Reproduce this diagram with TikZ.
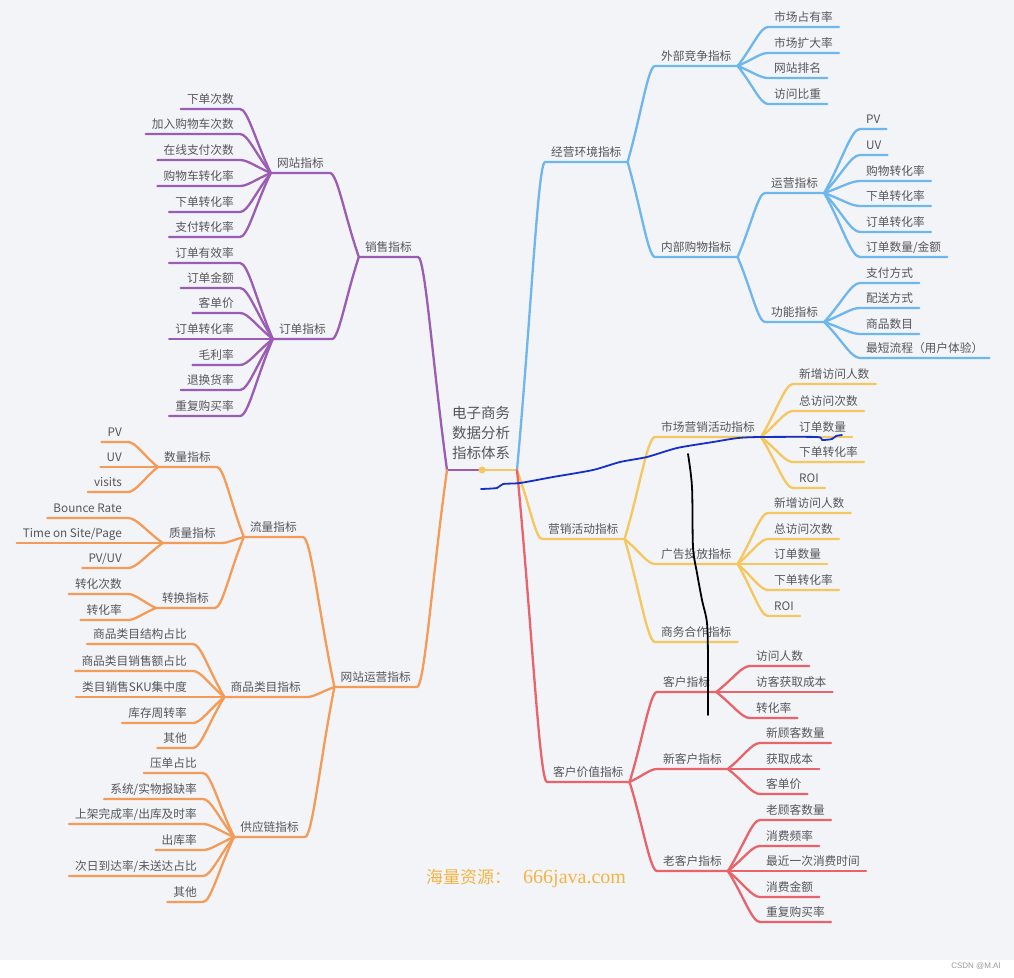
\documentclass[tikz,border=0pt]{standalone}
\usepackage{fontspec}
\setmainfont{Noto Sans CJK SC}
\newfontfamily\wmserif{Liberation Serif}
\newfontfamily\csdnfont{Liberation Sans}
\usetikzlibrary{calc}
\definecolor{bgc}{HTML}{F3F4F8}
\definecolor{cblue}{HTML}{6DB6EE}
\definecolor{cpurple}{HTML}{9B5CB4}
\definecolor{corange}{HTML}{F49B57}
\definecolor{cyellow}{HTML}{F5C75E}
\definecolor{cred}{HTML}{E7646B}
\definecolor{txt}{HTML}{55555B}
\definecolor{wmc}{HTML}{F2B545}
\definecolor{inkblue}{HTML}{1530C8}
\begin{document}
\begin{tikzpicture}[x=1pt,y=-1pt,
  lbl/.style={font=\fontsize{11.7}{14}\selectfont, text=txt, inner xsep=6pt, inner ysep=3pt, text height=0.8em, text depth=0.2em},
  R/.style={lbl,anchor=south west},
  L/.style={lbl,anchor=south east},
  br/.style={to path={let \p1=(\tikztostart),\p2=(\tikztotarget) in .. controls ({0.5*\x1+0.5*\x2},{0.5*\y1+0.5*\y2}) and ({0.75*\x2+0.25*\x1},\y2) .. (\p2)}},
  cline/.style={line width=2.3pt, line cap=round, line join=round}]
\useasboundingbox (0,0) rectangle (1014,977);
\fill[white] (0,0) rectangle (1014,977);
\fill[bgc] (0,0) rectangle (1014,960);

% root
\node[font=\fontsize{14.5}{20}\selectfont, text=txt, align=center] (root) at (481,433) {电子商务\\数据分析\\指标体系};
\coordinate (rootL) at (447,470);
\coordinate (rootR) at (517,470);
\coordinate (rootM) at (482,470);

% ---------- right: blue
\node[R] (jy) at (545,162) {经营环境指标};
\node[R] (wb) at (655,66) {外部竞争指标};
\node[R] (nb) at (655,257) {内部购物指标};
\node[R] (w1) at (768,27) {市场占有率};
\node[R] (w2) at (768,53) {市场扩大率};
\node[R] (w3) at (768,78) {网站排名};
\node[R] (w4) at (768,104) {访问比重};
\node[R] (yy) at (765,193) {运营指标};
\node[R] (gn) at (765,322) {功能指标};
\node[R] (y1) at (860,129) {PV};
\node[R] (y2) at (860,155) {UV};
\node[R] (y3) at (860,181) {购物转化率};
\node[R] (y4) at (860,206) {下单转化率};
\node[R] (y5) at (860,232) {订单转化率};
\node[R] (y6) at (860,257) {订单数量/金额};
\node[R] (g1) at (860,283) {支付方式};
\node[R] (g2) at (860,308) {配送方式};
\node[R] (g3) at (860,334) {商品数目};
\node[R] (g4) at (860,358) {最短流程（用户体验）};

% ---------- right: yellow
\node[R] (yx) at (542,539) {营销活动指标};
\node[R] (sc) at (655,437) {市场营销活动指标};
\node[R] (gg) at (655,564) {广告投放指标};
\node[R] (sw) at (655,642) {商务合作指标};
\node[R] (s1) at (793,384) {新增访问人数};
\node[R] (s2) at (793,411) {总访问次数};
\node[R] (s3) at (793,437) {订单数量};
\node[R] (s4) at (793,462) {下单转化率};
\node[R] (s5) at (793,488) {ROI};
\node[R] (a1) at (768,513) {新增访问人数};
\node[R] (a2) at (768,539) {总访问次数};
\node[R] (a3) at (768,564) {订单数量};
\node[R] (a4) at (768,590) {下单转化率};
\node[R] (a5) at (768,616) {ROI};

% ---------- right: red
\node[R] (kj) at (547,782) {客户价值指标};
\node[R] (kh) at (657,692) {客户指标};
\node[R] (xk) at (657,769) {新客户指标};
\node[R] (lk) at (657,871) {老客户指标};
\node[R] (k1) at (750,666) {访问人数};
\node[R] (k2) at (750,692) {访客获取成本};
\node[R] (k3) at (750,718) {转化率};
\node[R] (x1) at (760,743) {新顾客数量};
\node[R] (x2) at (760,769) {获取成本};
\node[R] (x3) at (760,794) {客单价};
\node[R] (l1) at (760,820) {老顾客数量};
\node[R] (l2) at (760,846) {消费频率};
\node[R] (l3) at (760,871) {最近一次消费时间};
\node[R] (l4) at (760,897) {消费金额};
\node[R] (l5) at (760,922) {重复购买率};

% ---------- left: purple
\node[L] (xs) at (418,257) {销售指标};
\node[L] (wz) at (330,173) {网站指标};
\node[L] (dd) at (332,339) {订单指标};
\node[L] (p1) at (240,109) {下单次数};
\node[L] (p2) at (240,134) {加入购物车次数};
\node[L] (p3) at (240,160) {在线支付次数};
\node[L] (p4) at (240,186) {购物车转化率};
\node[L] (p5) at (240,212) {下单转化率};
\node[L] (p6) at (240,237) {支付转化率};
\node[L] (q1) at (240,263) {订单有效率};
\node[L] (q2) at (240,288) {订单金额};
\node[L] (q3) at (240,313) {客单价};
\node[L] (q4) at (240,339) {订单转化率};
\node[L] (q5) at (240,365) {毛利率};
\node[L] (q6) at (240,390) {退换货率};
\node[L] (q7) at (240,416) {重复购买率};

% ---------- left: orange
\node[L] (wy) at (417,687) {网站运营指标};
\node[L] (ll) at (303,537) {流量指标};
\node[L] (sp) at (307,697) {商品类目指标};
\node[L] (gy) at (305,837) {供应链指标};
\node[L] (sl) at (217,467) {数量指标};
\node[L] (zl) at (222,543) {质量指标};
\node[L] (zh) at (215,608) {转换指标};
\node[L] (n1) at (128,442) {PV};
\node[L] (n2) at (128,467) {UV};
\node[L] (n3) at (128,492) {visits};
\node[L] (m1) at (128,518) {Bounce Rate};
\node[L] (m2) at (128,543) {Time on Site/Page};
\node[L] (m3) at (128,568) {PV/UV};
\node[L] (t1) at (128,594) {转化次数};
\node[L] (t2) at (128,620) {转化率};
\node[L] (c1) at (193,644) {商品类目结构占比};
\node[L] (c2) at (193,671) {商品类目销售额占比};
\node[L] (c3) at (193,697) {类目销售SKU集中度};
\node[L] (c4) at (193,723) {库存周转率};
\node[L] (c5) at (193,748) {其他};
\node[L] (e1) at (203,773) {压单占比};
\node[L] (e2) at (203,799) {系统/实物报缺率};
\node[L] (e3) at (203,824) {上架完成率/出库及时率};
\node[L] (e4) at (203,850) {出库率};
\node[L] (e5) at (203,876) {次日到达率/未送达占比};
\node[L] (e6) at (203,902) {其他};

% ---------- connectors
\draw[cline,cpurple] (rootM) -- (rootL);
\draw[cline,cyellow] (rootM) -- (rootR);

\draw[cline,cblue] (rootR) to[br] (jy.south west) -- (jy.south east);
\foreach \c in {wb,nb} \draw[cline,cblue] (jy.south east) to[br] (\c.south west) -- (\c.south east);
\foreach \c in {w1,w2,w3,w4} \draw[cline,cblue] (wb.south east) to[br] (\c.south west) -- (\c.south east);
\foreach \c in {yy,gn} \draw[cline,cblue] (nb.south east) to[br] (\c.south west) -- (\c.south east);
\foreach \c in {y1,y2,y3,y4,y5,y6} \draw[cline,cblue] (yy.south east) to[br] (\c.south west) -- (\c.south east);
\foreach \c in {g1,g2,g3,g4} \draw[cline,cblue] (gn.south east) to[br] (\c.south west) -- (\c.south east);

\draw[cline,cyellow] (rootR) to[br] (yx.south west) -- (yx.south east);
\foreach \c in {sc,gg,sw} \draw[cline,cyellow] (yx.south east) to[br] (\c.south west) -- (\c.south east);
\foreach \c in {s1,s2,s3,s4,s5} \draw[cline,cyellow] (sc.south east) to[br] (\c.south west) -- (\c.south east);
\foreach \c in {a1,a2,a3,a4,a5} \draw[cline,cyellow] (gg.south east) to[br] (\c.south west) -- (\c.south east);

\draw[cline,cred] (rootR) to[br] (kj.south west) -- (kj.south east);
\foreach \c in {kh,xk,lk} \draw[cline,cred] (kj.south east) to[br] (\c.south west) -- (\c.south east);
\foreach \c in {k1,k2,k3} \draw[cline,cred] (kh.south east) to[br] (\c.south west) -- (\c.south east);
\foreach \c in {x1,x2,x3} \draw[cline,cred] (xk.south east) to[br] (\c.south west) -- (\c.south east);
\foreach \c in {l1,l2,l3,l4,l5} \draw[cline,cred] (lk.south east) to[br] (\c.south west) -- (\c.south east);

\draw[cline,cpurple] (rootL) to[br] (xs.south east) -- (xs.south west);
\foreach \c in {wz,dd} \draw[cline,cpurple] (xs.south west) to[br] (\c.south east) -- (\c.south west);
\foreach \c in {p1,p2,p3,p4,p5,p6} \draw[cline,cpurple] (wz.south west) to[br] (\c.south east) -- (\c.south west);
\foreach \c in {q1,q2,q3,q4,q5,q6,q7} \draw[cline,cpurple] (dd.south west) to[br] (\c.south east) -- (\c.south west);

\draw[cline,corange] (rootL) to[br] (wy.south east) -- (wy.south west);
\foreach \c in {ll,sp,gy} \draw[cline,corange] (wy.south west) to[br] (\c.south east) -- (\c.south west);
\foreach \c in {sl,zl,zh} \draw[cline,corange] (ll.south west) to[br] (\c.south east) -- (\c.south west);
\foreach \c in {n1,n2,n3} \draw[cline,corange] (sl.south west) to[br] (\c.south east) -- (\c.south west);
\foreach \c in {m1,m2,m3} \draw[cline,corange] (zl.south west) to[br] (\c.south east) -- (\c.south west);
\foreach \c in {t1,t2} \draw[cline,corange] (zh.south west) to[br] (\c.south east) -- (\c.south west);
\foreach \c in {c1,c2,c3,c4,c5} \draw[cline,corange] (sp.south west) to[br] (\c.south east) -- (\c.south west);
\foreach \c in {e1,e2,e3,e4,e5,e6} \draw[cline,corange] (gy.south west) to[br] (\c.south east) -- (\c.south west);

\fill[cyellow] (rootM) circle (3.5);

% hand-drawn marks
\draw[inkblue, line width=1.8pt, line cap=round, line join=round] plot[smooth, tension=0.4] coordinates {(481,489) (497,488) (503,484) (520,483) (553,477) (593,470) (620,462) (647,457) (677,448) (713,442) (738,438) (760,437) (817,437) (822,440) (832,439) (836,436) (842,435)};
\draw[black, line width=1.8pt, line cap=round] plot[smooth, tension=0.5] coordinates {(688,454) (692,487) (693,547) (697,573) (702,600) (707,623) (708,660) (708,715)};

% watermark and credit
\node[anchor=west, text=wmc, inner sep=0pt] (wm) at (426,878) {\fontsize{17}{20}\selectfont 海量资源：\hspace{12pt}\wmserif\fontsize{20}{20}\selectfont 666java.com};
\node[anchor=east, text=gray!80, inner sep=0pt, font=\csdnfont\fontsize{8}{9}\selectfont] (csdn) at (1001,966) {CSDN @M.AI};
\end{tikzpicture}
\end{document}
